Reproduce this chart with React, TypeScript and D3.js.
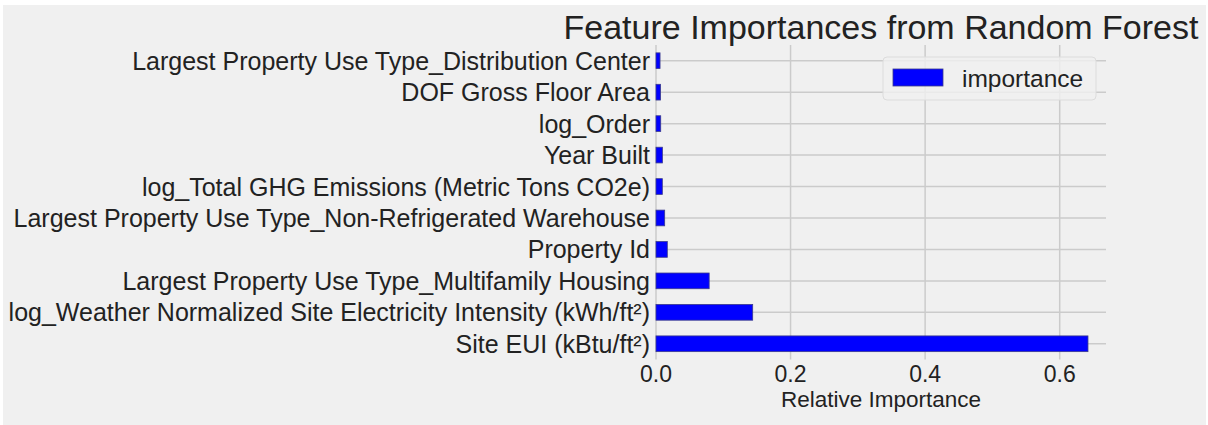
import React from "react";
import * as d3 from "d3";

const features: string[] = [
  "Site EUI (kBtu/ft²)",
  "log_Weather Normalized Site Electricity Intensity (kWh/ft²)",
  "Largest Property Use Type_Multifamily Housing",
  "Property Id",
  "Largest Property Use Type_Non-Refrigerated Warehouse",
  "log_Total GHG Emissions (Metric Tons CO2e)",
  "Year Built",
  "log_Order",
  "DOF Gross Floor Area",
  "Largest Property Use Type_Distribution Center",
];
const importances: number[] = [0.642, 0.1437, 0.079, 0.0168, 0.0129, 0.0094, 0.0095, 0.007, 0.0068, 0.006];
const xTicks: number[] = [0.0, 0.2, 0.4, 0.6];
const title = "Feature Importances from Random Forest";
const xLabel = "Relative Importance";
const legendLabel = "importance";

const W = 1208;
const H = 425;
const FONT = "'Liberation Sans', Arial, Helvetica, sans-serif";

export default function App() {
  const left = 656;
  const right = 1106;
  const top = 45;
  const bottom = 359.5;
  const x = d3.scaleLinear().domain([0, 0.6688]).range([left, right]);
  const y = d3
    .scaleBand<string>()
    .domain(features.slice().reverse())
    .range([top, bottom])
    .paddingInner(0.5)
    .paddingOuter(0.25);
  const grid = "#cbcbcb";
  return (
    <svg
      width={W}
      height={H}
      style={{ position: "absolute", left: 0, top: 0 }}
      fontFamily={FONT}
    >
      <rect x={0} y={0} width={W} height={H} fill="#ffffff" />
      <rect x={3} y={5} width={1203} height={420} fill="#f0f0f0" />
      {/* gridlines */}
      {xTicks.map((t) => (
        <line key={"gx" + t} x1={x(t)} x2={x(t)} y1={top} y2={bottom} stroke={grid} strokeWidth={1.5} />
      ))}
      {features.map((f) => {
        const cy = (y(f) as number) + y.bandwidth() / 2;
        return <line key={"gy" + f} x1={left} x2={right} y1={cy} y2={cy} stroke={grid} strokeWidth={1.5} />;
      })}
      {/* bars */}
      {features.map((f, i) => (
        <rect
          key={"b" + f}
          x={x(0)}
          y={y(f) as number}
          width={x(importances[i]) - x(0)}
          height={y.bandwidth()}
          fill="#0000ff"
          stroke="#3b3b8c"
          strokeWidth={0.8}
        />
      ))}
      {/* y labels */}
      {features.map((f) => (
        <text
          key={"yl" + f}
          x={left - 6}
          y={(y(f) as number) + y.bandwidth() / 2}
          textAnchor="end"
          dominantBaseline="central"
          fontSize={25}
          fill="#222"
        >
          {f}
        </text>
      ))}
      {/* x ticks */}
      {xTicks.map((t) => (
        <text key={"xt" + t} x={x(t)} y={382} textAnchor="middle" fontSize={23} fill="#222">
          {d3.format(".1f")(t)}
        </text>
      ))}
      <text x={(left + right) / 2} y={407} textAnchor="middle" fontSize={22.5} fill="#222">
        {xLabel}
      </text>
      <text x={(left + right) / 2} y={39} textAnchor="middle" fontSize={34} fill="#222">
        {title}
      </text>
      {/* legend */}
      <rect x={883} y={57} width={213} height={43} rx={4} fill="#f0f0f0" fillOpacity={0.8} stroke="#dcdcdc" />
      <rect x={893} y={69} width={50} height={17} fill="#0000ff" stroke="#3b3b8c" strokeWidth={0.8} />
      <text x={962} y={78} dominantBaseline="central" fontSize={24.5} fill="#222">
        {legendLabel}
      </text>
    </svg>
  );
}
